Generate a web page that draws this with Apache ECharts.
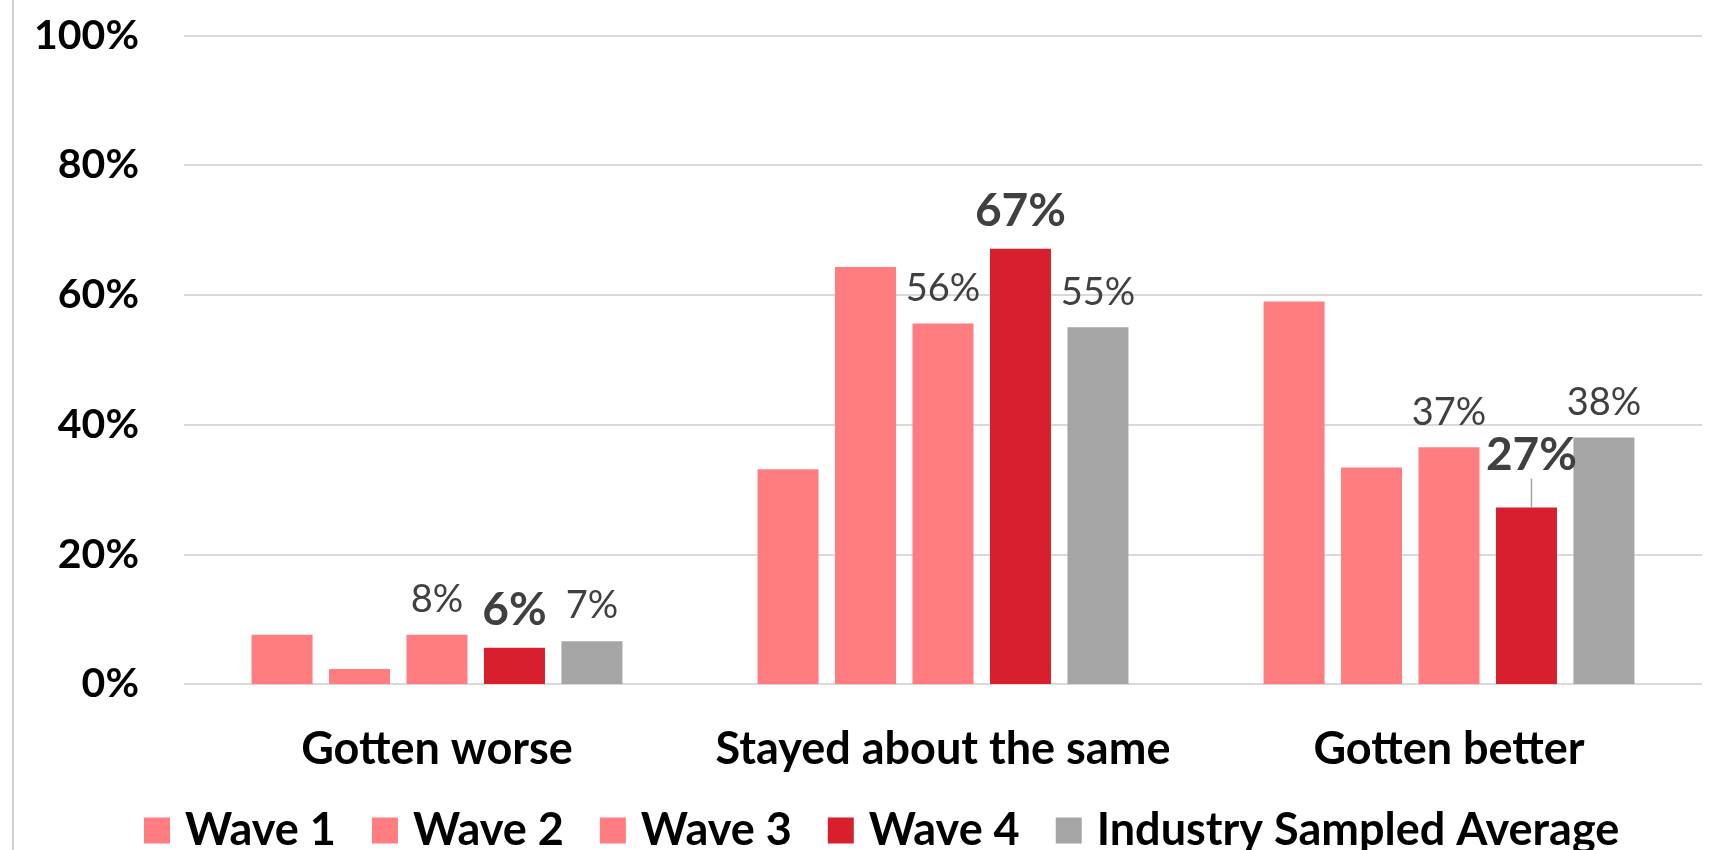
<!DOCTYPE html>
<html>
<head>
<meta charset="utf-8">
<script src="https://cdn.jsdelivr.net/npm/echarts@6/dist/echarts.min.js"></script>
<style>
html,body{margin:0;padding:0;background:#fff;}
#chart{width:1719px;height:850px;}
</style>
</head>
<body>
<div id="chart"></div>
<script>
const categories = ['Gotten worse', 'Stayed about the same', 'Gotten better'];
const seriesNames = ['Wave 1', 'Wave 2', 'Wave 3', 'Wave 4', 'Industry Sampled Average'];
const wave1 = [7.6, 33.1, 59.0];
const wave2 = [2.3, 64.3, 33.4];
const wave3 = [7.6, 55.6, 36.5];
const wave4 = [5.6, 67.1, 27.2];
const industry = [6.6, 55.0, 38.0];
const yTicks = [0, 20, 40, 60, 80, 100];

const FONT = 'Lato';
const colors = ['#FF7C80', '#FF7C80', '#FF7C80', '#D81F2D', '#A5A5A5'];

const regLabel = {
  show: true, position: 'top', distance: 16,
  fontFamily: FONT, fontSize: 38, color: '#404040',
  formatter: p => Math.round(p.value) + '%'
};
const boldLabel = {
  show: true, position: 'top', distance: 15,
  fontFamily: FONT, fontSize: 46, fontWeight: 'bold', color: '#404040',
  formatter: p => Math.round(p.value) + '%'
};

function mk(name, data, idx, label) {
  return {
    name: name, type: 'bar', data: data,
    barWidth: 61, barGap: '27%',
    itemStyle: { color: colors[idx] },
    label: label || { show: false },
    labelLine: { show: false },
    emphasis: { disabled: true }
  };
}

const wave4Data = wave4.map((v, i) => i === 2
  ? { value: v, labelLine: { show: true, lineStyle: { color: '#A5A5A5', width: 1.5 } } }
  : v);

const series = [
  mk(seriesNames[0], wave1, 0),
  mk(seriesNames[1], wave2, 1),
  mk(seriesNames[2], wave3, 2, regLabel),
  Object.assign(mk(seriesNames[3], wave4Data, 3, boldLabel), {
    labelLayout: function (p) { if (p.dataIndex === 2) return { dy: -14, dx: 5 }; }
  }),
  mk(seriesNames[4], industry, 4, regLabel)
];

const chart = echarts.init(document.getElementById('chart'), null, { renderer: 'canvas' });
chart.setOption({
  animation: false,
  backgroundColor: '#fff',
  grid: { left: 184, right: 17, top: 35.5, bottom: 166, containLabel: false },
  xAxis: {
    type: 'category', data: categories,
    axisLine: { show: false }, axisTick: { show: false },
    axisLabel: { interval: 0, margin: 43, fontFamily: FONT, fontSize: 45, fontWeight: 'bold', color: '#000' }
  },
  yAxis: {
    type: 'value', min: yTicks[0], max: yTicks[yTicks.length - 1], interval: yTicks[1] - yTicks[0],
    axisLine: { show: false }, axisTick: { show: false },
    splitLine: { lineStyle: { color: '#D9D9D9', width: 2 } },
    axisLabel: { margin: 45, fontFamily: FONT, fontSize: 41, fontWeight: 'bold', color: '#000',
      formatter: v => v + '%' }
  },
  legend: {
    data: seriesNames, left: 139, top: 803,
    itemWidth: 26, itemHeight: 26, itemGap: 36,
    icon: 'rect',
    textStyle: { fontFamily: FONT, fontSize: 45, fontWeight: 'bold', color: '#000', padding: [0, 0, 0, 10] },
    selectedMode: false
  },
  graphic: [{
    type: 'line', shape: { x1: 13, y1: 0, x2: 13, y2: 850 },
    style: { stroke: '#BFBFBF', lineWidth: 1.5 }
  }],
  series: series
});
</script>
</body>
</html>
